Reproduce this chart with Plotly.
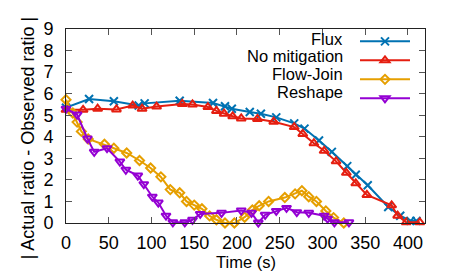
import plotly.graph_objects as go

flux_t = [0, 27, 56, 85, 92, 133, 172, 186, 194, 215, 228, 246, 267, 279, 296, 311, 329, 339, 353, 377, 391, 403, 410]
flux_v = [5.35, 5.75, 5.65, 5.45, 5.55, 5.67, 5.57, 5.42, 5.3, 5.15, 5.07, 4.9, 4.62, 4.38, 3.83, 3.3, 2.64, 2.24, 1.75, 0.74, 0.34, 0.1, 0.1]

nomit_t = [0, 20, 37, 59, 78, 89, 106, 136, 148, 166, 176, 185, 195, 205, 224, 243, 267, 277, 290, 302, 316, 328, 339, 352, 381, 388, 398, 414]
nomit_v = [5.25, 5.25, 5.3, 5.27, 5.45, 5.3, 5.4, 5.52, 5.5, 5.38, 5.2, 5.07, 4.95, 4.85, 4.83, 4.7, 4.45, 4.13, 3.7, 3.35, 2.86, 2.33, 1.84, 1.3, 0.82, 0.34, 0.03, 0.03]

fj_t = [0, 8, 13, 18, 26, 45, 56, 71, 86, 99, 111, 122, 133, 141, 150, 159, 168, 176, 186, 197, 209, 218, 226, 237, 256, 268, 276, 284, 293, 304, 313, 325]
fj_v = [5.72, 5.1, 4.68, 4.25, 3.9, 3.65, 3.47, 3.25, 2.9, 2.55, 2.14, 1.55, 1.4, 1.0, 0.83, 0.66, 0.33, 0.15, 0.0, 0.0, 0.27, 0.6, 0.8, 1.0, 1.18, 1.35, 1.5, 1.22, 1.0, 0.56, 0.25, 0.0]

rs_t = [0, 13, 25, 33, 48, 63, 70, 84, 91, 101, 108, 117, 125, 139, 148, 157, 182, 205, 217, 225, 233, 246, 258, 270, 284, 302, 306, 314, 331]
rs_v = [5.3, 5.03, 3.92, 3.3, 3.47, 2.85, 2.47, 2.2, 1.8, 1.22, 0.95, 0.34, 0.03, 0.03, 0.15, 0.42, 0.47, 0.58, 0.47, 0.02, 0.38, 0.56, 0.7, 0.5, 0.47, 0.34, 0.2, 0.03, 0.03]

series_names = ["Flux", "No mitigation", "Flow-Join", "Reshape"]
x_ticks = [0, 50, 100, 150, 200, 250, 300, 350, 400]
y_ticks = [0, 1, 2, 3, 4, 5, 6, 7, 8, 9]

series = [
    (series_names[0], flux_t, flux_v, "#0072b2", "x-thin-open", 8),
    (series_names[1], nomit_t, nomit_v, "#e51e10", "triangle-up-open", 8),
    (series_names[2], fj_t, fj_v, "#e69f00", "diamond-open", 7),
    (series_names[3], rs_t, rs_v, "#9400d3", "triangle-down-open", 8),
]

font = "Liberation Sans, Arial, sans-serif"
fig = go.Figure()
for name, t, v, color, sym, size in series:
    fig.add_trace(go.Scatter(
        x=t, y=v, name="", mode="lines+markers",
        hovertemplate=name + ": %{x}, %{y}<extra></extra>",
        line=dict(color=color, width=2),
        marker=dict(symbol=sym, size=size, color=color, line=dict(color=color, width=2)),
        cliponaxis=False,
    ))

# key: text right-aligned to the left of each legend sample (gnuplot style)
key_y = [0.951, 0.860, 0.769, 0.677]
annotations = [dict(
    text=n, xref="paper", yref="paper", x=0.777, y=yy,
    xanchor="right", yanchor="middle", showarrow=False,
    font=dict(family=font, size=16.5, color="black"),
) for n, yy in zip(series_names, key_y)]
annotations.append(dict(
    text="| Actual ratio - Observed ratio |", textangle=-90,
    xref="paper", yref="paper", x=-0.106, y=0.436,
    xanchor="center", yanchor="middle", showarrow=False,
    font=dict(family=font, size=18, color="black"),
))
annotations.append(dict(
    text="Time (s)", xref="paper", yref="paper", x=0.5, y=-0.203,
    xanchor="center", yanchor="middle", showarrow=False,
    font=dict(family=font, size=16.5, color="black"),
))

axis_common = dict(
    showline=True, mirror="ticks", linecolor="#222", linewidth=1,
    ticks="inside", ticklen=6, tickcolor="#555", tickwidth=1,
    showgrid=False, zeroline=False,
    tickfont=dict(family=font, size=18, color="black"),
)
fig.update_layout(
    width=449, height=266,
    margin=dict(l=58, r=32, t=11, b=51),
    plot_bgcolor="white", paper_bgcolor="white",
    font=dict(family=font, size=18, color="black"),
    xaxis=dict(range=[0, 420], tickvals=x_ticks, ticklabelstandoff=3, **axis_common),
    yaxis=dict(range=[0, 9], tickvals=y_ticks, ticklabelstandoff=8, **axis_common),
    legend=dict(x=0.805, y=1.011, xanchor="left", yanchor="top",
                bgcolor="rgba(0,0,0,0)", font=dict(size=10),
                tracegroupgap=0, itemwidth=50),
    showlegend=True,
    annotations=annotations,
)
fig.write_html("out.html")
